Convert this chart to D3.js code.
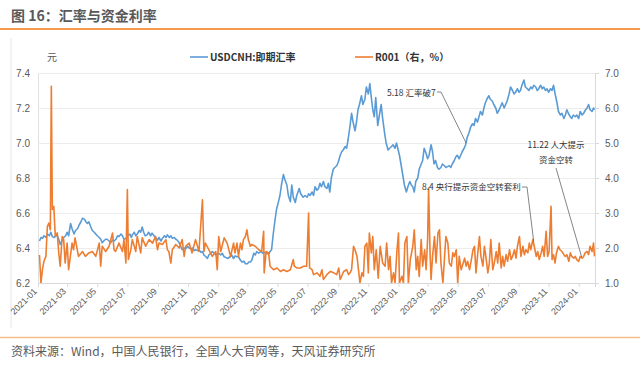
<!DOCTYPE html>
<html><head><meta charset="utf-8">
<script src="https://cdn.jsdelivr.net/npm/d3@7/dist/d3.min.js"></script>
<style>
body{margin:0;background:#fff}
svg{display:block}
text{font-family:"Liberation Sans","Noto Sans CJK SC",sans-serif}
.cjk{font-family:"Noto Sans CJK SC","Liberation Sans",sans-serif}
</style>
</head><body>
<svg id="c" width="640" height="368"></svg>
<script>
// ---------- data ----------
const title = "图 16：汇率与资金利率";
const source = "资料来源：Wind，中国人民银行，全国人大官网等，天风证券研究所";
const seriesNames = ["USDCNH:即期汇率", "R001（右，%）"];
const leftTicks = [6.2, 6.4, 6.6, 6.8, 7.0, 7.2, 7.4];
const rightTicks = [1.0, 2.0, 3.0, 4.0, 5.0, 6.0, 7.0];
const xTickLabels = ["2021-01","2021-03","2021-05","2021-07","2021-09","2021-11",
  "2022-01","2022-03","2022-05","2022-07","2022-09","2022-11",
  "2023-01","2023-03","2023-05","2023-07","2023-09","2023-11","2024-01"];

const usdcnh = [
["2021-01-04",6.44],["2021-01-07",6.46],["2021-01-10",6.455],["2021-01-13",6.47],["2021-01-17",6.46],["2021-01-20",6.48],
["2021-01-24",6.47],["2021-01-27",6.49],["2021-01-30",6.465],["2021-02-03",6.46],["2021-02-06",6.47],["2021-02-09",6.47],
["2021-02-12",6.45],["2021-02-15",6.42],["2021-02-18",6.44],["2021-02-22",6.46],["2021-02-26",6.47],["2021-03-01",6.49],
["2021-03-04",6.47],["2021-03-08",6.54],["2021-03-11",6.51],["2021-03-15",6.48],["2021-03-18",6.50],["2021-03-22",6.51],
["2021-03-25",6.53],["2021-03-29",6.55],["2021-04-01",6.57],["2021-04-05",6.565],["2021-04-08",6.55],["2021-04-11",6.54],
["2021-04-14",6.55],["2021-04-18",6.52],["2021-04-21",6.50],["2021-04-25",6.49],["2021-04-28",6.48],["2021-05-01",6.47],
["2021-05-05",6.46],["2021-05-08",6.45],["2021-05-11",6.43],["2021-05-14",6.44],["2021-05-18",6.45],["2021-05-21",6.45],
["2021-05-25",6.44],["2021-05-28",6.43],["2021-06-01",6.445],["2021-06-04",6.44],["2021-06-08",6.45],["2021-06-11",6.47],
["2021-06-14",6.465],["2021-06-18",6.48],["2021-06-21",6.47],["2021-06-24",6.45],["2021-06-28",6.455],["2021-07-02",6.47],
["2021-07-06",6.48],["2021-07-09",6.46],["2021-07-11",6.475],["2021-07-15",6.49],["2021-07-18",6.47],["2021-07-21",6.48],
["2021-07-25",6.50],["2021-07-28",6.49],["2021-07-31",6.52],["2021-08-03",6.49],["2021-08-06",6.47],["2021-08-10",6.475],
["2021-08-13",6.49],["2021-08-17",6.47],["2021-08-20",6.485],["2021-08-24",6.47],["2021-08-27",6.46],["2021-08-31",6.445],
["2021-09-03",6.46],["2021-09-07",6.44],["2021-09-10",6.455],["2021-09-14",6.47],["2021-09-17",6.46],["2021-09-20",6.475],
["2021-09-24",6.46],["2021-09-27",6.47],["2021-09-30",6.455],["2021-10-04",6.46],["2021-10-07",6.45],["2021-10-10",6.445],
["2021-10-14",6.43],["2021-10-17",6.41],["2021-10-20",6.39],["2021-10-24",6.40],["2021-10-27",6.395],["2021-10-31",6.41],
["2021-11-03",6.40],["2021-11-07",6.395],["2021-11-10",6.40],["2021-11-13",6.385],["2021-11-16",6.39],["2021-11-20",6.385],
["2021-11-23",6.39],["2021-11-27",6.375],["2021-11-30",6.38],["2021-12-03",6.36],["2021-12-07",6.35],["2021-12-10",6.34],
["2021-12-13",6.36],["2021-12-17",6.37],["2021-12-20",6.38],["2021-12-24",6.37],["2021-12-27",6.36],["2022-01-02",6.37],
["2022-01-06",6.36],["2022-01-09",6.37],["2022-01-13",6.35],["2022-01-17",6.345],["2022-01-20",6.34],["2022-01-25",6.35],
["2022-01-28",6.36],["2022-02-01",6.34],["2022-02-04",6.355],["2022-02-08",6.35],["2022-02-11",6.35],["2022-02-15",6.33],
["2022-02-18",6.32],["2022-02-22",6.325],["2022-02-25",6.31],["2022-03-01",6.31],["2022-03-04",6.32],["2022-03-07",6.32],
["2022-03-10",6.33],["2022-03-14",6.37],["2022-03-17",6.36],["2022-03-20",6.38],["2022-03-24",6.37],["2022-03-28",6.38],
["2022-04-02",6.37],["2022-04-06",6.375],["2022-04-09",6.37],["2022-04-13",6.365],["2022-04-16",6.38],["2022-04-19",6.39],
["2022-04-22",6.47],["2022-04-26",6.56],["2022-04-29",6.62],["2022-05-03",6.665],["2022-05-06",6.70],["2022-05-09",6.76],
["2022-05-13",6.82],["2022-05-16",6.79],["2022-05-20",6.76],["2022-05-23",6.70],["2022-05-27",6.665],["2022-05-30",6.76],
["2022-06-02",6.69],["2022-06-06",6.66],["2022-06-09",6.70],["2022-06-14",6.74],["2022-06-17",6.71],["2022-06-22",6.69],
["2022-06-26",6.70],["2022-06-30",6.69],["2022-07-03",6.71],["2022-07-06",6.70],["2022-07-10",6.72],["2022-07-13",6.70],
["2022-07-16",6.75],["2022-07-20",6.73],["2022-07-23",6.74],["2022-07-26",6.77],["2022-07-29",6.75],["2022-08-02",6.78],
["2022-08-05",6.75],["2022-08-09",6.74],["2022-08-12",6.77],["2022-08-15",6.72],["2022-08-18",6.80],["2022-08-22",6.85],
["2022-08-25",6.86],["2022-08-29",6.87],["2022-09-01",6.89],["2022-09-05",6.93],["2022-09-08",6.95],["2022-09-11",6.96],
["2022-09-15",6.98],["2022-09-18",6.97],["2022-09-21",7.02],["2022-09-25",7.10],["2022-09-28",7.17],["2022-10-01",7.12],
["2022-10-05",7.07],["2022-10-08",7.12],["2022-10-11",7.19],["2022-10-14",7.22],["2022-10-18",7.27],["2022-10-21",7.22],
["2022-10-25",7.25],["2022-10-28",7.32],["2022-11-01",7.28],["2022-11-04",7.34],["2022-11-07",7.26],["2022-11-10",7.19],
["2022-11-13",7.15],["2022-11-16",7.26],["2022-11-18",7.18],["2022-11-20",7.10],["2022-11-24",7.17],["2022-11-27",7.22],
["2022-11-30",7.14],["2022-12-04",7.055],["2022-12-07",7.00],["2022-12-11",6.96],["2022-12-14",6.97],["2022-12-18",6.98],
["2022-12-21",6.99],["2022-12-25",6.97],["2022-12-28",7.00],["2023-01-03",6.93],["2023-01-06",6.88],["2023-01-09",6.83],
["2023-01-13",6.76],["2023-01-17",6.72],["2023-01-20",6.75],["2023-01-24",6.78],["2023-01-27",6.76],["2023-01-30",6.75],
["2023-02-02",6.72],["2023-02-05",6.78],["2023-02-09",6.80],["2023-02-12",6.85],["2023-02-16",6.88],["2023-02-19",6.90],
["2023-02-22",6.97],["2023-02-26",6.94],["2023-03-01",6.91],["2023-03-04",6.93],["2023-03-08",6.99],["2023-03-11",6.95],
["2023-03-14",6.88],["2023-03-17",6.90],["2023-03-21",6.86],["2023-03-24",6.85],["2023-03-28",6.86],["2023-03-31",6.88],
["2023-04-04",6.87],["2023-04-07",6.86],["2023-04-10",6.865],["2023-04-14",6.87],["2023-04-17",6.86],["2023-04-20",6.88],
["2023-04-24",6.90],["2023-04-27",6.92],["2023-04-30",6.93],["2023-05-04",6.91],["2023-05-07",6.93],["2023-05-10",6.95],
["2023-05-14",6.97],["2023-05-17",6.99],["2023-05-20",7.03],["2023-05-24",7.06],["2023-05-27",7.09],["2023-05-31",7.11],
["2023-06-03",7.10],["2023-06-06",7.14],["2023-06-10",7.12],["2023-06-13",7.15],["2023-06-16",7.18],["2023-06-20",7.16],
["2023-06-23",7.20],["2023-06-26",7.23],["2023-06-29",7.25],["2023-07-03",7.27],["2023-07-06",7.25],["2023-07-10",7.24],
["2023-07-13",7.22],["2023-07-17",7.20],["2023-07-20",7.17],["2023-07-24",7.19],["2023-07-27",7.21],["2023-07-30",7.23],
["2023-08-03",7.20],["2023-08-06",7.22],["2023-08-09",7.24],["2023-08-13",7.28],["2023-08-16",7.32],["2023-08-20",7.30],
["2023-08-23",7.28],["2023-08-26",7.29],["2023-08-30",7.31],["2023-09-02",7.29],["2023-09-05",7.30],["2023-09-08",7.33],
["2023-09-12",7.36],["2023-09-15",7.32],["2023-09-19",7.31],["2023-09-22",7.30],["2023-09-26",7.32],["2023-09-29",7.31],
["2023-10-02",7.33],["2023-10-06",7.32],["2023-10-09",7.30],["2023-10-12",7.31],["2023-10-16",7.33],["2023-10-19",7.31],
["2023-10-22",7.32],["2023-10-26",7.30],["2023-10-29",7.31],["2023-11-01",7.29],["2023-11-05",7.31],["2023-11-08",7.30],
["2023-11-11",7.33],["2023-11-15",7.27],["2023-11-18",7.23],["2023-11-21",7.18],["2023-11-25",7.16],["2023-11-28",7.17],
["2023-12-02",7.14],["2023-12-05",7.16],["2023-12-08",7.19],["2023-12-11",7.17],["2023-12-15",7.15],["2023-12-18",7.14],
["2023-12-21",7.16],["2023-12-25",7.15],["2023-12-28",7.16],["2024-01-01",7.14],["2024-01-04",7.18],["2024-01-08",7.16],
["2024-01-11",7.17],["2024-01-15",7.19],["2024-01-18",7.20],["2024-01-21",7.22],["2024-01-24",7.19],["2024-01-28",7.18],
["2024-01-31",7.20],["2024-02-02",7.19]
];

const r001 = [
["2021-01-04",1.80],["2021-01-07",1.00],["2021-01-10",1.38],["2021-01-13",1.62],["2021-01-17",1.76],["2021-01-20",2.62],
["2021-01-23",2.71],["2021-01-26",2.52],["2021-01-28",6.62],["2021-01-30",3.10],["2021-02-02",3.19],["2021-02-05",2.33],
["2021-02-09",2.43],["2021-02-12",1.86],["2021-02-15",1.48],["2021-02-19",2.33],["2021-02-22",2.24],["2021-02-25",1.57],
["2021-03-01",2.14],["2021-03-04",1.38],["2021-03-11",2.14],["2021-03-14",1.95],["2021-03-17",2.29],["2021-03-24",1.76],
["2021-04-01",1.90],["2021-04-07",1.76],["2021-04-14",1.86],["2021-04-21",1.90],["2021-04-28",1.76],["2021-05-05",2.14],
["2021-05-08",1.48],["2021-05-11",2.05],["2021-05-18",1.90],["2021-05-25",2.05],["2021-06-01",2.43],["2021-06-04",1.95],
["2021-06-07",1.90],["2021-06-14",2.14],["2021-06-21",1.90],["2021-06-24",2.24],["2021-06-28",1.57],["2021-07-01",3.67],
["2021-07-03",1.67],["2021-07-08",1.95],["2021-07-11",2.24],["2021-07-18",1.90],["2021-07-21",2.33],["2021-07-28",1.86],
["2021-07-31",2.29],["2021-08-07",2.05],["2021-08-14",2.24],["2021-08-21",2.14],["2021-08-27",2.33],["2021-08-31",1.95],
["2021-09-03",2.14],["2021-09-10",2.10],["2021-09-17",2.24],["2021-09-20",1.95],["2021-09-23",1.90],["2021-09-27",1.57],
["2021-09-30",1.95],["2021-10-07",2.10],["2021-10-14",2.00],["2021-10-20",2.24],["2021-10-24",1.76],["2021-10-27",2.05],
["2021-11-03",2.14],["2021-11-09",1.86],["2021-11-16",2.24],["2021-11-23",1.90],["2021-11-30",3.38],["2021-12-03",1.90],
["2021-12-06",2.14],["2021-12-13",1.95],["2021-12-20",1.76],["2021-12-27",1.90],["2021-12-30",1.38],["2022-01-02",2.33],
["2022-01-06",1.90],["2022-01-13",2.29],["2022-01-19",2.14],["2022-01-26",1.76],["2022-02-01",2.14],["2022-02-04",1.86],
["2022-02-08",2.14],["2022-02-11",1.76],["2022-02-15",2.14],["2022-02-18",1.95],["2022-02-21",2.24],["2022-02-25",2.33],
["2022-02-28",2.52],["2022-03-03",2.24],["2022-03-07",2.05],["2022-03-10",2.10],["2022-03-17",2.05],["2022-03-24",1.95],
["2022-03-30",1.90],["2022-04-03",2.48],["2022-04-04",1.29],["2022-04-08",1.90],["2022-04-13",1.86],["2022-04-16",1.48],
["2022-04-23",1.38],["2022-04-30",1.43],["2022-05-07",1.33],["2022-05-13",1.38],["2022-05-20",1.33],["2022-05-27",1.38],
["2022-05-30",1.52],["2022-06-02",1.67],["2022-06-04",1.48],["2022-06-09",1.43],["2022-06-16",1.43],["2022-06-23",1.48],
["2022-06-29",1.48],["2022-07-03",3.00],["2022-07-05",1.43],["2022-07-10",1.38],["2022-07-13",1.24],["2022-07-20",1.29],
["2022-07-26",1.19],["2022-07-30",1.38],["2022-08-02",1.10],["2022-08-09",1.24],["2022-08-16",1.33],["2022-08-23",1.29],
["2022-08-29",1.24],["2022-09-02",1.43],["2022-09-05",1.10],["2022-09-12",1.33],["2022-09-18",1.38],["2022-09-22",1.24],
["2022-09-25",1.29],["2022-09-28",1.38],["2022-10-02",2.05],["2022-10-05",1.95],["2022-10-09",1.76],["2022-10-12",1.38],
["2022-10-15",1.00],["2022-10-19",1.29],["2022-10-22",1.19],["2022-10-25",2.05],["2022-10-29",2.14],["2022-11-01",1.29],
["2022-11-03",2.43],["2022-11-07",1.86],["2022-11-10",2.33],["2022-11-13",1.38],["2022-11-17",1.95],["2022-11-21",1.14],
["2022-11-25",2.05],["2022-11-30",1.57],["2022-12-05",1.48],["2022-12-08",2.14],["2022-12-12",1.38],["2022-12-15",1.76],
["2022-12-18",1.00],["2022-12-22",1.29],["2022-12-25",1.00],["2022-12-29",1.95],["2023-01-01",2.43],["2023-01-03",1.00],
["2023-01-08",1.19],["2023-01-11",1.00],["2023-01-14",2.14],["2023-01-18",2.33],["2023-01-21",1.00],["2023-01-25",1.67],
["2023-01-30",2.05],["2023-02-02",2.52],["2023-02-06",1.38],["2023-02-09",1.76],["2023-02-12",1.19],["2023-02-16",2.24],
["2023-02-19",1.48],["2023-02-23",1.95],["2023-02-26",1.38],["2023-03-01",2.24],["2023-03-03",3.71],["2023-03-06",1.86],
["2023-03-08",1.10],["2023-03-11",1.76],["2023-03-15",2.33],["2023-03-18",1.57],["2023-03-22",2.43],["2023-03-25",2.52],
["2023-03-28",1.57],["2023-04-01",1.00],["2023-04-04",1.67],["2023-04-07",2.33],["2023-04-11",2.14],["2023-04-14",1.57],
["2023-04-18",1.48],["2023-04-21",1.86],["2023-04-24",1.76],["2023-04-28",1.95],["2023-05-01",1.00],["2023-05-04",1.76],
["2023-05-08",1.38],["2023-05-11",1.52],["2023-05-15",1.71],["2023-05-18",1.48],["2023-05-21",1.62],["2023-05-25",1.38],
["2023-05-28",1.62],["2023-06-01",1.95],["2023-06-04",2.05],["2023-06-07",1.29],["2023-06-10",1.76],["2023-06-14",2.33],
["2023-06-17",1.76],["2023-06-21",1.48],["2023-06-24",2.05],["2023-06-27",1.76],["2023-07-01",1.29],["2023-07-04",1.57],
["2023-07-07",2.24],["2023-07-11",1.38],["2023-07-14",1.57],["2023-07-18",1.90],["2023-07-21",1.57],["2023-07-24",2.14],
["2023-07-28",1.43],["2023-07-31",1.76],["2023-08-03",1.48],["2023-08-07",1.81],["2023-08-10",1.62],["2023-08-14",1.95],
["2023-08-17",1.67],["2023-08-20",1.76],["2023-08-24",1.95],["2023-08-27",1.71],["2023-08-30",2.05],["2023-09-03",2.33],
["2023-09-06",1.76],["2023-09-10",2.05],["2023-09-13",1.81],["2023-09-16",1.95],["2023-09-20",1.86],["2023-09-23",2.14],
["2023-09-26",1.95],["2023-09-30",2.24],["2023-10-03",2.05],["2023-10-07",1.76],["2023-10-10",1.90],["2023-10-13",1.67],
["2023-10-17",1.86],["2023-10-20",2.05],["2023-10-23",1.76],["2023-10-27",2.48],["2023-10-30",1.76],["2023-11-02",1.90],
["2023-11-06",3.19],["2023-11-08",1.67],["2023-11-11",1.81],["2023-11-14",1.57],["2023-11-17",1.86],["2023-11-21",2.05],
["2023-11-24",1.95],["2023-11-28",1.90],["2023-12-02",1.81],["2023-12-05",1.76],["2023-12-08",1.81],["2023-12-12",1.62],
["2023-12-15",1.86],["2023-12-18",1.76],["2023-12-22",1.71],["2023-12-25",1.76],["2023-12-28",1.67],["2024-01-01",1.62],
["2024-01-04",1.76],["2024-01-08",1.71],["2024-01-11",1.76],["2024-01-14",1.86],["2024-01-18",1.90],["2024-01-21",1.81],
["2024-01-24",2.05],["2024-01-28",1.90],["2024-01-31",2.14],["2024-02-02",1.76]
];

// annotations: text lines + anchor point in data space (axis: "L" left, "R" right)
const annotations = [
  {lines:["5.18 汇率破7"], date:"2023-05-18", value:7.00, axis:"L"},
  {lines:["8.4 央行提示资金空转套利"], date:"2023-10-02", value:2.17, axis:"R"},
  {lines:["11.22 人大提示","资金空转"], date:"2024-01-07", value:1.74, axis:"R"}
];

// ---------- chart ----------
const blue = "#5B9BD5", orange = "#ED7D31", grey = "#595959";
const svg = d3.select("#c");
const parse = d3.timeParse("%Y-%m-%d");
const parseM = d3.timeParse("%Y-%m");
const X0 = 38, X1 = 595, Y0 = 73, Y1 = 283;

const x = d3.scaleTime().domain([parse("2021-01-01"), parse("2024-02-03")]).range([X0, X1]);
const yL = d3.scaleLinear().domain([6.2, 7.4]).range([Y1, Y0]);
const yR = d3.scaleLinear().domain([1, 7]).range([Y1, Y0]);

// header
svg.append("text").attr("class","cjk").attr("x",11).attr("y",21)
  .attr("font-size",14).attr("font-weight","bold").attr("fill",grey).text(title);
svg.append("line").attr("x1",0).attr("x2",640).attr("y1",29).attr("y2",29)
  .attr("stroke","#F59A4C").attr("stroke-width",2);
svg.append("line").attr("x1",11).attr("x2",11).attr("y1",38).attr("y2",328)
  .attr("stroke","#e6e6e6").attr("stroke-width",1);
svg.append("line").attr("x1",0).attr("x2",640).attr("y1",337.5).attr("y2",337.5)
  .attr("stroke","#F8BE8C").attr("stroke-width",1.5);
svg.append("text").attr("class","cjk").attr("x",11).attr("y",356)
  .attr("font-size",12).attr("fill",grey).text(source);

// grid + left axis
const gL = svg.append("g").attr("transform",`translate(${X0},0)`)
  .call(d3.axisLeft(yL).tickValues(leftTicks).tickSize(-(X1-X0)).tickPadding(8).tickFormat(d3.format(".1f")));
gL.select(".domain").attr("stroke","#e0e0e0");
gL.selectAll(".tick line").attr("stroke","#ececec");
gL.selectAll(".tick text").attr("font-size",10).attr("fill",grey);

// right axis
const gR = svg.append("g").attr("transform",`translate(${X1},0)`)
  .call(d3.axisRight(yR).tickValues(rightTicks).tickSize(4).tickPadding(6).tickFormat(d3.format(".1f")));
gR.select(".domain").attr("stroke","#d9d9d9");
gR.selectAll(".tick line").attr("stroke","#d9d9d9");
gR.selectAll(".tick text").attr("font-size",10).attr("fill",grey);

// bottom axis
const gX = svg.append("g").attr("transform",`translate(0,${Y1})`)
  .call(d3.axisBottom(x).tickValues(xTickLabels.map(parseM)).tickSize(4).tickFormat(d3.timeFormat("%Y-%m")));
gX.select(".domain").attr("stroke","#d9d9d9");
gX.selectAll(".tick line").attr("stroke","#d9d9d9");
gX.selectAll(".tick text").attr("font-size",9).attr("fill",grey)
  .attr("text-anchor","end").attr("dy",null).attr("y",0)
  .attr("transform","translate(-1,9) rotate(-45)");

// clip
svg.append("clipPath").attr("id","clip").append("rect")
  .attr("x",X0).attr("y",Y0-2).attr("width",X1-X0).attr("height",Y1-Y0+2);

const lineL = d3.line().x(d=>x(parse(d[0]))).y(d=>yL(d[1]));
const lineR = d3.line().x(d=>x(parse(d[0]))).y(d=>yR(d[1]));
const plot = svg.append("g").attr("clip-path","url(#clip)");
plot.append("path").datum(usdcnh).attr("d",lineL).attr("fill","none")
  .attr("stroke",blue).attr("stroke-width",1.6).attr("stroke-linejoin","round");
plot.append("path").datum(r001).attr("d",lineR).attr("fill","none")
  .attr("stroke",orange).attr("stroke-width",1.6).attr("stroke-linejoin","round");

// unit + legend
svg.append("text").attr("class","cjk").attr("x",47).attr("y",61).attr("font-size",10).attr("fill",grey).text("元");
const leg = [{name:seriesNames[0], c:blue, x:190},{name:seriesNames[1], c:orange, x:355}];
leg.forEach(l=>{
  svg.append("line").attr("x1",l.x).attr("x2",l.x+18).attr("y1",57).attr("y2",57)
    .attr("stroke",l.c).attr("stroke-width",1.6);
  svg.append("text").attr("class","cjk").attr("x",l.x+20).attr("y",61).attr("font-size",10)
    .attr("font-weight","bold").attr("fill","#333").text(l.name);
});

// annotations
const annLayout = [
  {tx:387, ty:96, anchor:"start", path:(px,py)=>`M437,92H441L${px},${py}`},
  {tx:422, ty:190, anchor:"start", path:(px,py)=>`M522,187H527L${px},${py}`},
  {tx:556, ty:148, anchor:"middle", path:(px,py)=>`M556,168L${px},${py}`}
];
annotations.forEach((a,i)=>{
  const L = annLayout[i];
  const px = x(parse(a.date)), py = (a.axis==="L"?yL:yR)(a.value);
  svg.append("path").attr("d",L.path(px,py)).attr("fill","none").attr("stroke","#666").attr("stroke-width",0.8);
  a.lines.forEach((t,j)=>{
    svg.append("text").attr("class","cjk").attr("x",L.tx).attr("y",L.ty+j*15)
      .attr("text-anchor",L.anchor).attr("font-size",8.5).attr("fill","#333").text(t);
  });
});
</script>
</body></html>
